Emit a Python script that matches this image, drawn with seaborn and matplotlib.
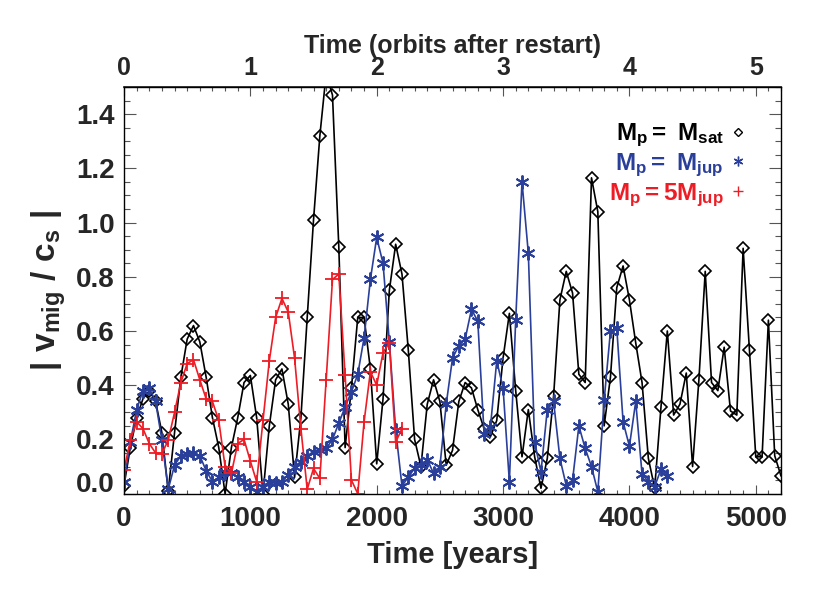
import numpy as np
import pandas as pd
import matplotlib
matplotlib.use("Agg")
import matplotlib.pyplot as plt
import seaborn as sns
from matplotlib.lines import Line2D
from matplotlib.ticker import MultipleLocator, FixedLocator
import matplotlib.transforms as mtransforms

# ---------------- data ----------------
step_years = 50
v_sat = [
    0.03, 0.17, 0.28, 0.35, 0.38, 0.34, 0.225, 0.01, 0.225, 0.43,
    0.57, 0.62, 0.56, 0.43, 0.28, 0.17, 0.00, 0.17, 0.28, 0.41,
    0.436, 0.28, 0.00, 0.25, 0.42, 0.46, 0.33, 0.06, 0.28, 0.65,
    1.01, 1.32, 1.55, 1.47, 0.91, 0.17, 0.39, 0.65, 0.65, 0.46,
    0.11, 0.35, 0.75, 0.92, 0.81, 0.53, 0.20, 0.10, 0.33, 0.42,
    0.34, 0.105, 0.16, 0.34, 0.41, 0.39, 0.31, 0.24, 0.21, 0.27,
    0.50, 0.665, 0.38, 0.136, 0.31, 0.136, 0.02, 0.13, 0.36, 0.715,
    0.82, 0.74, 0.44, 0.41, 1.165, 1.04, 0.25, 0.43, 0.76, 0.84,
    0.715, 0.556, 0.41, 0.13, 0.02, 0.32, 0.60, 0.29, 0.33, 0.445,
    0.10, 0.42, 0.82, 0.41, 0.38, 0.54, 0.305, 0.29, 0.905, 0.53,
    0.136, 0.136, 0.64, 0.14, 0.065,
]
v_jup = [
    0.044, 0.19, 0.31, 0.38, 0.39, 0.34, 0.197, 0.016, 0.105, 0.14,
    0.145, 0.15, 0.14, 0.085, 0.044, 0.06, 0.08, 0.075, 0.06, 0.044,
    0.023, 0.007, 0.026, 0.044, 0.038, 0.044, 0.07, 0.10, 0.118, 0.14,
    0.155, 0.16, 0.167, 0.20, 0.26, 0.32, 0.375, 0.44, 0.575, 0.79,
    0.945, 0.85, 0.56, 0.236, 0.028, 0.062, 0.093, 0.105, 0.126, 0.075,
    0.10, 0.33, 0.50, 0.546, 0.57, 0.68, 0.636, 0.22, 0.246, 0.49,
    0.39, 0.044, 0.64, 1.15, 0.887, 0.19, 0.08, 0.31, 0.34, 0.13,
    0.03, 0.05, 0.25, 0.167, 0.10, 0.007, 0.344, 0.60, 0.61, 0.265,
    0.175, 0.34, 0.072, 0.044, 0.026, 0.09, 0.065,
]
v_5jup = [
    0.087, 0.197, 0.265, 0.24, 0.185, 0.15, 0.148, 0.197, 0.30, 0.41,
    0.48, 0.494, 0.42, 0.35, 0.34, 0.27, 0.10, 0.075, 0.185, 0.20,
    0.12, 0.044, 0.27, 0.49, 0.65, 0.72, 0.67, 0.50, 0.24, 0.016,
    0.093, 0.056, 0.42, 0.79, 0.81, 0.436, 0.05, 0.0, 0.265, 0.45,
    0.40, 0.52, 0.556, 0.19, 0.24,
]
t_sat = np.arange(len(v_sat)) * step_years
t_jup = np.arange(len(v_jup)) * step_years
t_5jup = np.arange(len(v_5jup)) * step_years

labels = [r"$M_p =\ M_{sat}$", r"$M_p =\ M_{jup}$", r"$M_p = 5M_{jup}$"]
colors = ["black", "#2a3f9a", "#ee1c25"]
yticks = [0.0, 0.2, 0.4, 0.6, 0.8, 1.0, 1.2, 1.4]
xticks = [0, 1000, 2000, 3000, 4000, 5000]
orbit_ticks = [0, 1, 2, 3, 4, 5]

# ---------------- style ----------------
sns.set_theme(style="ticks")
plt.rcParams['font.family'] = ['Liberation Sans', 'DejaVu Sans']
plt.rcParams['font.weight'] = 'bold'
plt.rcParams['mathtext.fontset'] = 'custom'
plt.rcParams['mathtext.rm'] = 'Liberation Sans:bold'
plt.rcParams['mathtext.bf'] = 'Liberation Sans:bold'
plt.rcParams['mathtext.it'] = 'Liberation Sans:bold'
plt.rcParams['mathtext.default'] = 'bf'

fig = plt.figure(figsize=(8.3, 5.93), dpi=100)
ax = fig.add_axes([0.1494, 0.1675, 0.7916, 0.6858])

sns.lineplot(x=t_sat, y=v_sat, ax=ax, color=colors[0], lw=1.2, marker='D',
             markersize=5.8, markerfacecolor='none', markeredgecolor=colors[0],
             markeredgewidth=1.2, legend=False)
sns.lineplot(x=t_jup, y=v_jup, ax=ax, color=colors[1], lw=1.2, marker=(6, 2, 0),
             markersize=10, markerfacecolor=colors[1], markeredgecolor=colors[1],
             markeredgewidth=1.4, legend=False)
sns.lineplot(x=t_5jup, y=v_5jup, ax=ax, color=colors[2], lw=1.2, marker='+',
             markersize=10, markeredgecolor=colors[2], markeredgewidth=1.3,
             legend=False)

ax.set_xlim(0, 5200)
ax.set_ylim(0, 1.5)
ax.xaxis.set_major_locator(FixedLocator(xticks))
ax.xaxis.set_minor_locator(MultipleLocator(100))
ax.yaxis.set_major_locator(FixedLocator(yticks))
ax.yaxis.set_minor_locator(MultipleLocator(0.05))
ax.set_yticklabels([("" if v == 0 else f"{v:.1f}") for v in yticks])
ax.set_xticklabels([str(v) for v in xticks])

tick_col = "#555555"
ax.tick_params(axis='x', which='major', direction='in', length=6.5, width=0.8,
               color=tick_col, labelsize=20, pad=9, top=False, bottom=True)
ax.tick_params(axis='x', which='minor', direction='in', length=3.2, width=0.8,
               color=tick_col, top=False, bottom=True)
ax.tick_params(axis='y', which='major', direction='in', length=8.6, width=0.8,
               color=tick_col, labelsize=20, pad=6.5, left=True, right=True)
ax.tick_params(axis='y', which='minor', direction='in', length=4.3, width=0.8,
               color=tick_col, left=True, right=True)
for s in ax.spines.values():
    s.set_linewidth(1.0)
    s.set_color("black")

# shifted "0.0" label as in the reference
ax.annotate("0.0", xy=(0, 0),
            xycoords=mtransforms.blended_transform_factory(ax.transAxes, ax.transData),
            xytext=(-6.5, 6.5), textcoords='offset points', ha='right', va='center',
            fontsize=20, fontweight='bold')

sec = ax.secondary_xaxis('top', functions=(lambda x: x / 1000.0, lambda x: x * 1000.0))
sec.xaxis.set_major_locator(FixedLocator(orbit_ticks))
sec.xaxis.set_minor_locator(MultipleLocator(0.1))
sec.set_xticklabels([str(v) for v in orbit_ticks])
sec.tick_params(axis='x', which='major', direction='in', length=6.5, width=0.8,
                color=tick_col, labelsize=18, pad=5)
sec.tick_params(axis='x', which='minor', direction='in', length=3.2, width=0.8,
                color=tick_col)
sec.set_xlabel("Time (orbits after restart)", fontsize=18, fontweight='bold', labelpad=2)

ax.set_xlabel("Time [years]", fontsize=21, fontweight='bold', labelpad=6)
ax.set_ylabel(r"$|\ v_{mig}\ /\ c_s\ |$", fontsize=24, labelpad=6)

handles = [
    Line2D([], [], ls='none', marker='D', ms=4.5, mfc='none', mec=colors[0], mew=1.0),
    Line2D([], [], ls='none', marker=(6, 2, 0), ms=7, mec=colors[1], mfc=colors[1], mew=1.0),
    Line2D([], [], ls='none', marker='+', ms=7, mec=colors[2], mew=1.0),
]
leg = ax.legend(handles, labels, loc='upper right', bbox_to_anchor=(0.95, 0.915),
                markerfirst=False, frameon=False, fontsize=17.5, labelspacing=0.1,
                handlelength=0.8, handletextpad=0.2, borderpad=0, borderaxespad=0,
                labelcolor=colors)

fig.savefig("out.png", dpi=100)
